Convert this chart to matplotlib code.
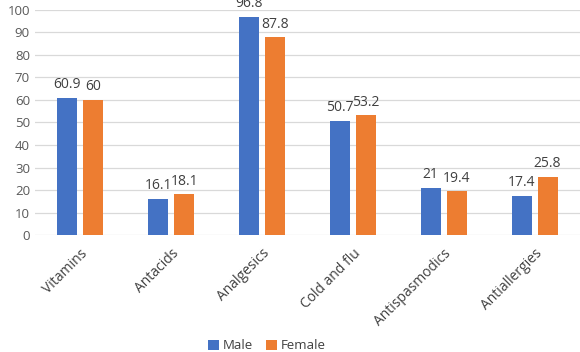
import numpy as np
import matplotlib.pyplot as plt

categories = ['Vitamins', 'Antacids', 'Analgesics', 'Cold and flu', 'Antispasmodics', 'Antiallergies']
male = [60.9, 16.1, 96.8, 50.7, 21, 17.4]
female = [60, 18.1, 87.8, 53.2, 19.4, 25.8]
yticks = list(range(0, 101, 10))

plt.rcParams['font.family'] = ['Open Sans', 'DejaVu Sans']
plt.rcParams['font.size'] = 9.5
txt = '#595959'

fig = plt.figure(figsize=(5.8, 3.52), dpi=100)
ax = fig.add_axes([0.06, 0.332, 0.94, 0.64])

x = np.arange(len(categories))
w = 0.22
off = 0.143
b1 = ax.bar(x - off, male, w, color='#4472C4', label='Male', zorder=3)
b2 = ax.bar(x + off, female, w, color='#ED7D31', label='Female', zorder=3)

for bars, vals in ((b1, male), (b2, female)):
    for b, v in zip(bars, vals):
        ax.text(b.get_x() + b.get_width() / 2, v + 2.5, f'{v:g}', ha='center', va='bottom',
                color='#404040', fontsize=10, clip_on=False)

ax.set_xlim(-0.5, len(categories) - 0.5)
ax.set_ylim(0, 100)
ax.set_yticks(yticks)
ax.yaxis.grid(True, color='#d9d9d9', linewidth=0.9, zorder=0)
ax.set_xticks(x)
ax.set_xticklabels(categories, rotation=45, ha='right', rotation_mode='anchor')
ax.tick_params(axis='both', length=0, colors=txt, labelsize=9.5)
ax.tick_params(axis='x', pad=8, labelcolor='#404040', labelsize=10)
for s in ax.spines.values():
    s.set_visible(False)

fig.legend(loc='lower center', bbox_to_anchor=(0.46, -0.035), ncol=2, frameon=False,
           handlelength=0.8, handleheight=0.8, handletextpad=0.3, columnspacing=1.0,
           labelcolor='#404040', fontsize=9.5)

fig.savefig('out.png', dpi=100, facecolor='w')
